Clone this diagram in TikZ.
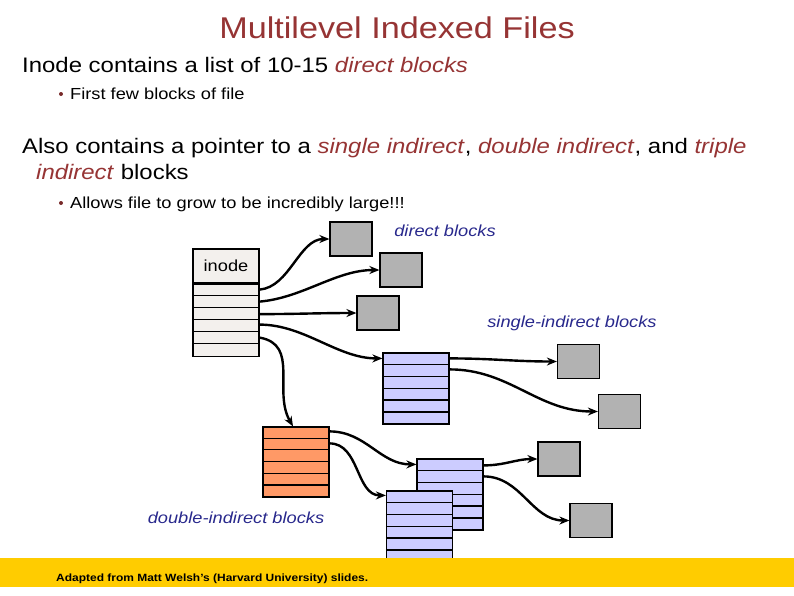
\documentclass[tikz,border=0pt]{standalone}
\usepackage{fontspec}
\usepackage{graphicx}
\setmainfont{Liberation Sans}
\usetikzlibrary{positioning,arrows.meta}

\definecolor{titlered}{RGB}{150,52,52}
\definecolor{labelblue}{RGB}{40,40,140}
\definecolor{blkgray}{RGB}{178,178,178}
\definecolor{idxblue}{RGB}{204,204,255}
\definecolor{dblorange}{RGB}{255,153,102}
\definecolor{inodefill}{RGB}{243,240,237}
\definecolor{footyellow}{RGB}{255,204,0}

\tikzset{
  datablk/.style={draw=black, fill=blkgray, line width=1.2pt,
    minimum width=42pt, minimum height=34pt, inner sep=0pt},
  idxblk/.style={draw=black, fill=idxblue, line width=1.2pt,
    minimum width=66pt, minimum height=71pt, inner sep=0pt},
  ptr/.style={->, line width=2.4pt},
  blklabel/.style={text=labelblue, font=\fontsize{16}{18}\selectfont\itshape},
  bul/.style={fill=titlered!80!black, draw=none}
}
\newcommand{\emr}[1]{\textcolor{titlered}{\textit{#1}}}
\newcommand{\wide}[1]{\scalebox{1.14}[1]{#1}}

\begin{document}
\begin{tikzpicture}[x=1pt,y=-1pt,>={Stealth[length=10pt,width=8pt]}]
\useasboundingbox (0,0) rectangle (794,595);

% slide text
\node[anchor=base, text=titlered, font=\fontsize{30}{32}\selectfont] (title) at (397,38) {\wide{Multilevel Indexed Files}};
\node[anchor=base west, inner sep=0pt, font=\fontsize{21}{24}\selectfont] (l1) at (22,72) {\wide{Inode contains a list of 10-15 \emr{direct blocks}}};
\fill[bul] (61,94) circle (2pt);
\node[anchor=base west, inner sep=0pt, font=\fontsize{16}{18}\selectfont] (l2) at (70,99) {\wide{First few blocks of file}};
\node[anchor=base west, inner sep=0pt, font=\fontsize{21}{24}\selectfont] (l3) at (22,153) {\wide{Also contains a pointer to a \emr{single indirect}, \emr{double indirect}, and \emr{triple}}};
\node[anchor=base west, inner sep=0pt, font=\fontsize{21}{24}\selectfont] (l4) at (36,179) {\wide{\emr{indirect} blocks}};
\fill[bul] (61,203) circle (2pt);
\node[anchor=base west, inner sep=0pt, font=\fontsize{16}{18}\selectfont] (l5) at (70,208) {\wide{Allows file to grow to be incredibly large!!!}};

% inode
\node[draw=black, fill=inodefill, line width=1.2pt, minimum width=66pt, minimum height=34pt,
  font=\fontsize{16}{18}\selectfont] (ino) at (226,266) {\wide{inode}};
\node[draw=black, fill=inodefill, line width=1.2pt, minimum width=66pt, minimum height=72pt,
  inner sep=0pt, below=0pt of ino] (inotab) {};
\foreach \i in {1,...,5}
  \draw[line width=1.2pt] ([yshift=-\i*12pt]inotab.north west) -- ([yshift=-\i*12pt]inotab.north east);

% direct blocks
\node[datablk] (d1) at (351,239) {};
\node[datablk] (d2) at (401,270) {};
\node[datablk] (d3) at (378,313) {};
\node[blklabel] (dlab) at (445,231) {\wide{direct blocks}};

% single indirect
\node[idxblk] (sgl) at (416,388.5) {};
\foreach \i in {1,...,5}
  \draw[line width=1.2pt] ([yshift=-\i*11.9pt]sgl.north west) -- ([yshift=-\i*11.9pt]sgl.north east);
\node[datablk] (s1) at (578.5,361.5) {};
\node[datablk] (s2) at (619.5,411.5) {};
\node[blklabel] (slab) at (572,323) {\wide{single-indirect blocks}};

% double indirect
\node[idxblk, fill=dblorange, minimum height=70pt] (dbl) at (296,462) {};
\foreach \i in {1,...,5}
  \draw[line width=1.2pt] ([yshift=-\i*11.7pt]dbl.north west) -- ([yshift=-\i*11.7pt]dbl.north east);
\node[idxblk] (dblA) at (450,494.5) {};
\foreach \i in {1,...,5}
  \draw[line width=1.2pt] ([yshift=-\i*11.9pt]dblA.north west) -- ([yshift=-\i*11.9pt]dblA.north east);
\node[idxblk] (dblB) at (419.5,526.5) {};
\foreach \i in {1,...,5}
  \draw[line width=1.2pt] ([yshift=-\i*11.9pt]dblB.north west) -- ([yshift=-\i*11.9pt]dblB.north east);
\node[datablk] (t1) at (559,459) {};
\node[datablk] (t2) at (591,520.5) {};
\node[blklabel] (tlab) at (236,518) {\wide{double-indirect blocks}};

% pointers
\draw[ptr] ([yshift=-6pt]inotab.north east) to[out=5,in=180,looseness=0.9] (d1.west);
\draw[ptr] ([yshift=-18pt]inotab.north east) to[out=5,in=180,looseness=0.9] (d2.west);
\draw[ptr] ([yshift=-30.5pt]inotab.north east) to[out=0,in=180] (d3.west);
\draw[ptr] ([yshift=-41pt]inotab.north east) to[out=0,in=180,looseness=0.9] ([yshift=-6pt]sgl.north west);
\draw[ptr] ([yshift=-54pt]inotab.north east) to[out=-10,in=120,looseness=1.1] ([xshift=-3pt]dbl.north);
\draw[ptr] ([yshift=-6pt]sgl.north east) to[out=0,in=180] (s1.west);
\draw[ptr] ([yshift=-17pt]sgl.north east) to[out=0,in=180] (s2.west);
\draw[ptr] ([yshift=-5pt]dbl.north east) to[out=0,in=180] ([yshift=-6pt]dblA.north west);
\draw[ptr] ([yshift=-17pt]dbl.north east) to[out=0,in=180] ([yshift=-5pt]dblB.north west);
\draw[ptr] ([yshift=-7pt]dblA.north east) to[out=0,in=180] (t1.west);
\draw[ptr] ([yshift=-18pt]dblA.north east) to[out=0,in=180] (t2.west);

% footer
\fill[footyellow] (0,558) rectangle (794,587);
\node[anchor=base west, inner sep=0pt, font=\fontsize{10.5}{13}\selectfont\bfseries] (foot) at (56,581) {\wide{Adapted from Matt Welsh’s (Harvard University) slides.}};
\end{tikzpicture}
\end{document}
